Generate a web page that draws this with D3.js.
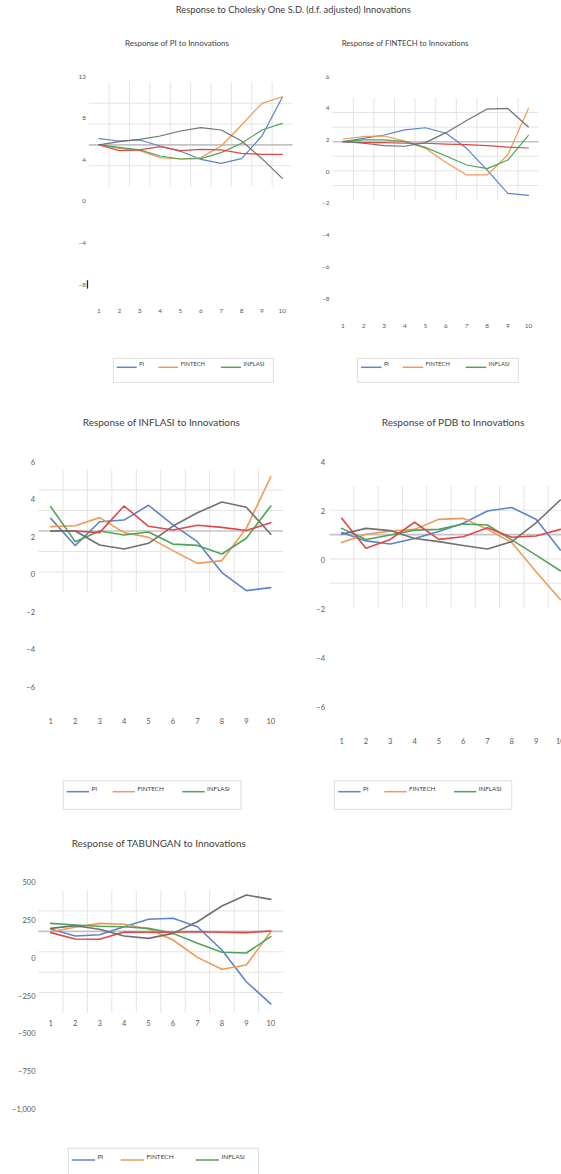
<!DOCTYPE html>
<html>
<head>
<meta charset="utf-8">
<script src="https://cdn.jsdelivr.net/npm/d3@7"></script>
<style>
  html, body { margin: 0; padding: 0; background: #fff; }
  svg { display: block; }
  text { font-family: Lato, "Open Sans", "DejaVu Sans", sans-serif; fill: #595959; }
</style>
</head>
<body>
<svg id="chart" width="561" height="1174"></svg>
<script>
// ---- Impulse-response data (10 periods, one row per shocked variable) ----
const steps = [1, 2, 3, 4, 5, 6, 7, 8, 9, 10];
const shocks = ["PI", "FINTECH", "INFLASI", "PDB", "TABUNGAN"];
const shockColors = ["#5b84cc", "#ef9a55", "#4ea45a", "#e04848", "#707070"];
const legendShocks = ["PI", "FINTECH", "INFLASI"];

// Response of PI
const respPI = [
  [5.96, 5.74, 5.84, 5.26, 4.75, 3.98, 3.59, 4.04, 6.22, 9.94],
  [5.36, 5.04, 4.81, 4.14, 4.01, 4.14, 5.26, 7.28, 9.36, 10.0],
  [5.36, 5.13, 4.88, 4.30, 4.01, 4.04, 4.62, 5.52, 6.80, 7.44],
  [5.36, 4.81, 4.88, 5.20, 4.81, 4.94, 4.88, 4.55, 4.46, 4.46],
  [5.36, 5.68, 5.90, 6.22, 6.70, 7.02, 6.80, 5.74, 4.04, 2.15]
];
// Response of FINTECH
const respFINTECH = [
  [1.85, 2.06, 2.27, 2.59, 2.73, 2.38, 1.43, 0.06, -1.41, -1.54],
  [2.02, 2.17, 2.21, 1.89, 1.43, 0.53, -0.25, -0.25, 1.01, 3.95],
  [1.85, 1.96, 1.96, 1.85, 1.49, 0.95, 0.38, 0.15, 0.69, 2.25],
  [1.85, 1.79, 1.79, 1.75, 1.75, 1.70, 1.66, 1.60, 1.51, 1.45],
  [1.85, 1.75, 1.60, 1.56, 1.79, 2.42, 3.18, 3.91, 3.95, 2.78]
];
// Response of INFLASI
const respINFLASI = [
  [2.97, 1.52, 2.79, 2.88, 3.67, 2.62, 1.73, 0.08, -0.88, -0.72],
  [2.53, 2.58, 3.01, 2.21, 1.96, 1.25, 0.57, 0.72, 2.44, 5.19],
  [3.59, 1.73, 2.30, 2.08, 2.24, 1.60, 1.53, 1.07, 1.91, 3.63],
  [2.30, 2.30, 2.21, 3.63, 2.55, 2.35, 2.60, 2.49, 2.32, 2.74],
  [2.30, 2.30, 1.55, 1.34, 1.64, 2.56, 3.27, 3.84, 3.56, 2.12]
];
// Response of PDB
const respPDB = [
  [1.12, 0.78, 0.65, 0.88, 1.16, 1.50, 2.00, 2.14, 1.66, 0.41],
  [0.71, 1.05, 1.18, 1.25, 1.66, 1.70, 1.25, 0.71, -0.48, -1.61],
  [1.29, 0.84, 1.02, 1.22, 1.25, 1.47, 1.43, 0.82, 0.20, -0.44],
  [1.70, 0.48, 0.84, 1.54, 0.84, 0.95, 1.32, 0.93, 0.98, 1.25],
  [1.05, 1.29, 1.20, 0.88, 0.75, 0.59, 0.45, 0.75, 1.52, 2.45]
];
// Response of TABUNGAN
const respTABUNGAN = [
  [190, 144, 152, 205, 254, 261, 205, 51, -159, -306],
  [172, 201, 227, 221, 190, 117, 2, -77, -48, 172],
  [227, 216, 208, 205, 194, 161, 95, 36, 31, 139],
  [166, 124, 122, 170, 168, 168, 172, 168, 166, 177],
  [194, 212, 188, 144, 128, 161, 238, 342, 415, 386]
];

// Value-axis tick labels
const ticksPI = [12, 8, 4, 0, -4, -8];
const ticksFINTECH = [6, 4, 2, 0, -2, -4, -6, -8];
const ticksINFLASI = [6, 4, 2, 0, -2, -4, -6];
const ticksPDB = [4, 2, 0, -2, -4, -6];
const ticksTABUNGAN = [500, 250, 0, -250, -500, -750, -1000];

const mainTitle = "Response to Cholesky One S.D. (d.f. adjusted) Innovations";

// ---- Layout of the five panels ----
const panels = [
  { name: "PI", data: respPI, ticks: ticksPI,
    title: { x: 177, y: 43.7, w: 104, fs: 7 },
    yMap: { p0: 200.7, k: 10.4 }, yLabelX: 86, fs: 6.5,
    xRange: [88.8, 292.5], xLabelY: 311,
    grid: { y0: 82.5, y1: 186.5, rows: 5, dark: 3 }, stroke: 1.2,
    legend: { x: 113.3, y: 358.3, w: 160, h: 24, lineY: 367.3, lineLen: 20, items: [116.7, 158.3, 221], fs: 5.8 },
    caret: -8 },
  { name: "FINTECH", data: respFINTECH, ticks: ticksFINTECH,
    title: { x: 405, y: 43.7, w: 126.7, fs: 7 },
    yMap: { p0: 171, k: 15.85 }, yLabelX: 329.5, fs: 6.5,
    xRange: [332.7, 538.7], xLabelY: 325.7,
    grid: { y0: 98, y1: 200, rows: 7, dark: 3 }, stroke: 1.2,
    legend: { x: 357.7, y: 358.3, w: 160.6, h: 24, lineY: 367.3, lineLen: 20.5, items: [361, 402.7, 465.7], fs: 5.8 } },
  { name: "INFLASI", data: respINFLASI, ticks: ticksINFLASI,
    title: { x: 161.3, y: 422.7, w: 157, fs: 9 },
    yMap: { p0: 574.1, k: 18.76 }, yLabelX: 35, fs: 7.5,
    xRange: [38.5, 283], xLabelY: 721.7,
    grid: { y0: 469.5, y1: 592.5, rows: 6, dark: 3 }, stroke: 1.6,
    legend: { x: 63.3, y: 780.7, w: 177.7, h: 28.6, lineY: 791.7, lineLen: 22.3, items: [66.7, 112.7, 182.3], fs: 6.3 } },
  { name: "PDB", data: respPDB, ticks: ticksPDB,
    title: { x: 453, y: 422.7, w: 142.7, fs: 9 },
    yMap: { p0: 560, k: 24.5 }, yLabelX: 325, fs: 7.5,
    xRange: [329.5, 572.5], xLabelY: 741.7,
    grid: { y0: 486, y1: 607.5, rows: 5, dark: 2 }, stroke: 1.6,
    legend: { x: 334.3, y: 780.7, w: 177.4, h: 28.6, lineY: 791.7, lineLen: 22.3, items: [338.3, 384.3, 454], fs: 6.3 } },
  { name: "TABUNGAN", data: respTABUNGAN, ticks: ticksTABUNGAN,
    title: { x: 158.7, y: 844, w: 174, fs: 9 },
    yMap: { p0: 957.7, k: 0.1511 }, yLabelX: 35.5, fs: 7.5,
    xRange: [38.5, 283], xLabelY: 1023.3,
    grid: { y0: 890.5, y1: 1013, rows: 6, dark: 2 }, stroke: 1.6,
    legend: { x: 68.3, y: 1148.3, w: 190, h: 32, lineY: 1160, lineLen: 23.3, items: [71.7, 120.7, 195.7], fs: 6.5 } }
];

const svg = d3.select("#chart");

// Overall heading
svg.append("text")
  .attr("x", 293.3).attr("y", 10).attr("dy", "0.35em")
  .attr("text-anchor", "middle")
  .attr("font-size", 8.5)
  .attr("textLength", 235).attr("lengthAdjust", "spacingAndGlyphs")
  .style("fill", "#404040")
  .text(mainTitle);

panels.forEach(p => {
  const g = svg.append("g").attr("class", "panel panel-" + p.name);

  // scales
  const lo = d3.min(p.ticks), hi = d3.max(p.ticks);
  const y = d3.scaleLinear()
    .domain([lo, hi])
    .range([p.yMap.p0 - p.yMap.k * lo, p.yMap.p0 - p.yMap.k * hi]);
  const x = d3.scaleBand().domain(steps).range(p.xRange).padding(0);
  const cx = s => x(s) + x.bandwidth() / 2;

  // panel heading
  g.append("text")
    .attr("x", p.title.x).attr("y", p.title.y).attr("dy", "0.35em")
    .attr("text-anchor", "middle")
    .attr("font-size", p.title.fs)
    .attr("textLength", p.title.w).attr("lengthAdjust", "spacingAndGlyphs")
    .style("fill", "#404040")
    .text("Response of " + p.name + " to Innovations");

  // plot-area grid
  const gr = p.grid;
  const rowH = (gr.y1 - gr.y0) / gr.rows;
  const grid = g.append("g").attr("class", "grid");
  d3.range(1, steps.length).forEach(i => {
    const gx = x(steps[i]);
    grid.append("line")
      .attr("x1", gx).attr("x2", gx).attr("y1", gr.y0).attr("y2", gr.y1)
      .attr("stroke", "#e4e4e4").attr("stroke-width", 1);
  });
  d3.range(1, gr.rows).forEach(i => {
    const gy = gr.y0 + i * rowH;
    grid.append("line")
      .attr("x1", p.xRange[0]).attr("x2", p.xRange[1]).attr("y1", gy).attr("y2", gy)
      .attr("stroke", i === gr.dark ? "#c4c4c4" : "#e4e4e4")
      .attr("stroke-width", i === gr.dark ? 1.6 : 1);
  });

  // value axis labels
  const yAxis = d3.axisLeft(y)
    .tickValues(p.ticks).tickSize(0).tickPadding(0)
    .tickFormat(d3.format(","));
  const ya = g.append("g").attr("transform", `translate(${p.yLabelX},0)`).call(yAxis);
  ya.select(".domain").remove();
  ya.selectAll("text")
    .attr("x", 0).attr("dy", "0.35em")
    .attr("font-size", p.fs).attr("font-family", null)
    .style("fill", "#595959");

  // period axis labels
  const xAxis = d3.axisBottom(x).tickSize(0).tickPadding(0);
  const xa = g.append("g").attr("transform", `translate(0,${p.xLabelY})`).call(xAxis);
  xa.select(".domain").remove();
  xa.selectAll("text")
    .attr("y", 0).attr("dy", "0.35em")
    .attr("font-size", p.fs).attr("font-family", null)
    .style("fill", "#595959");

  // text caret left after one of the labels
  if (p.caret !== undefined) {
    ya.selectAll(".tick").filter(d => d === p.caret).each(function () {
      const t = d3.select(this).select("text").node().getBBox();
      d3.select(this).append("rect")
        .attr("x", t.x + t.width + 0.6).attr("y", -4.2)
        .attr("width", 1.3).attr("height", 8.4)
        .attr("fill", "#2a2a2a");
    });
  }

  // response lines
  const line = d3.line().x((v, i) => cx(steps[i])).y(v => y(v));
  g.append("g").attr("class", "series")
    .selectAll("path")
    .data(p.data)
    .join("path")
    .attr("d", line)
    .attr("fill", "none")
    .attr("stroke", (d, i) => shockColors[i])
    .attr("stroke-width", p.stroke)
    .attr("stroke-linejoin", "round")
    .attr("stroke-linecap", "round");

  // legend
  const L = p.legend;
  const lg = g.append("g").attr("class", "legend");
  lg.append("rect")
    .attr("x", L.x).attr("y", L.y).attr("width", L.w).attr("height", L.h)
    .attr("fill", "#fff").attr("stroke", "#dedede").attr("stroke-width", 1);
  legendShocks.forEach((name, i) => {
    const lx = L.items[i];
    lg.append("line")
      .attr("x1", lx).attr("x2", lx + L.lineLen)
      .attr("y1", L.lineY).attr("y2", L.lineY)
      .attr("stroke", shockColors[shocks.indexOf(name)]).attr("stroke-width", 1.5);
    lg.append("text")
      .attr("x", lx + L.lineLen + 2.4).attr("y", L.lineY - 3.2)
      .attr("dy", "0.35em")
      .attr("font-size", L.fs)
      .style("fill", "#404040")
      .text(name);
  });
});
</script>
</body>
</html>
